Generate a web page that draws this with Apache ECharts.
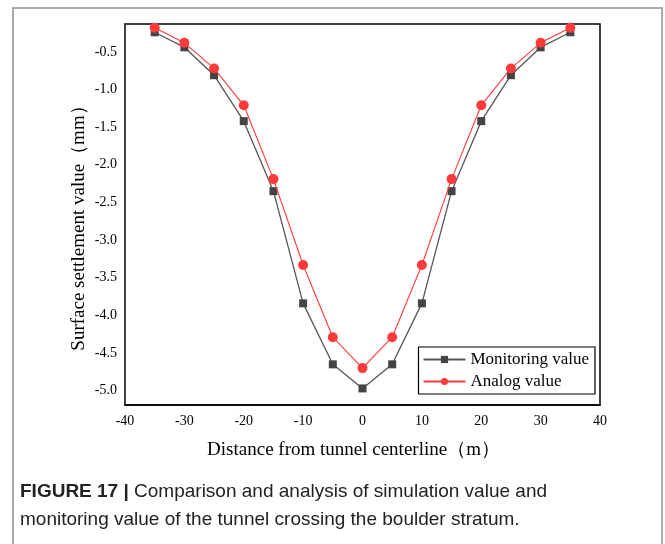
<!DOCTYPE html>
<html>
<head>
<meta charset="utf-8">
<script src="https://cdn.jsdelivr.net/npm/echarts@6/dist/echarts.min.js"></script>
<style>
  html, body { margin: 0; padding: 0; background: #fff; }
  #chart { width: 665px; height: 544px; }
</style>
</head>
<body>
<div id="chart"></div>
<script>
// distance from centerline (m)
const distances = [-35, -30, -25, -20, -15, -10, -5, 0, 5, 10, 15, 20, 25, 30, 35]
// settlement (mm)
const monitoringValues = [-0.24, -0.44, -0.81, -1.42, -2.35, -3.84, -4.65, -4.97, -4.65, -3.84, -2.35, -1.42, -0.81, -0.44, -0.24]
const analogValues = [-0.18, -0.38, -0.72, -1.21, -2.19, -3.33, -4.29, -4.70, -4.29, -3.33, -2.19, -1.21, -0.72, -0.38, -0.18]
const yTicks = [-5.0, -4.5, -4.0, -3.5, -3.0, -2.5, -2.0, -1.5, -1.0, -0.5]

const serif = '"Liberation Serif", "Times New Roman", serif'
const sans = '"Liberation Sans", Arial, sans-serif'

const myChart = echarts.init(document.getElementById('chart'))

const option = {
  animation: false,
  backgroundColor: '#fff',
  grid: {
    left: 125,
    top: 24,
    right: 65,
    bottom: 139,
    show: true,
    borderColor: '#000',
    borderWidth: 1.5
  },
  legend: {
    right: 70,
    top: 347,
    orient: 'vertical',
    itemWidth: 42,
    itemHeight: 9,
    itemGap: 5,
    padding: [4, 6, 4, 4],
    borderColor: '#000',
    borderWidth: 1.2,
    backgroundColor: '#fff',
    textStyle: { fontFamily: serif, fontSize: 17, color: '#000' },
    data: ['Monitoring value', 'Analog value']
  },
  xAxis: {
    type: 'value',
    min: -40,
    max: 40,
    interval: 10,
    name: 'Distance from tunnel centerline（m）',
    nameLocation: 'middle',
    nameGap: 36,
    nameTextStyle: { fontFamily: serif, fontSize: 19, color: '#000', padding: [0, 18, 0, 0] },
    axisLine: { show: true, onZero: false, lineStyle: { color: '#000', width: 1.5 } },
    axisTick: { show: false },
    splitLine: { show: false },
    axisLabel: { fontFamily: serif, fontSize: 14, color: '#000', margin: 9 }
  },
  yAxis: {
    type: 'value',
    min: -5.19,
    max: -0.13,
    name: 'Surface settlement value（mm）',
    nameLocation: 'middle',
    nameGap: 36,
    nameMoveOverlap: false,
    nameTextStyle: { fontFamily: serif, fontSize: 19, color: '#000', padding: [0, 0, 0, -18] },
    axisLine: { show: true, onZero: false, lineStyle: { color: '#444', width: 1.5 } },
    axisTick: { show: false },
    splitLine: { show: false },
    axisLabel: {
      fontFamily: serif,
      fontSize: 14,
      color: '#000',
      margin: 8,
      customValues: yTicks,
      formatter: v => v.toFixed(1)
    }
  },
  series: [
    {
      name: 'Monitoring value',
      type: 'line',
      data: distances.map((d, i) => [d, monitoringValues[i]]),
      symbol: 'rect',
      symbolSize: 8,
      lineStyle: { color: '#555', width: 1.3 },
      itemStyle: { color: '#444' },
      z: 2
    },
    {
      name: 'Analog value',
      type: 'line',
      data: distances.map((d, i) => [d, analogValues[i]]),
      symbol: 'circle',
      symbolSize: 10,
      lineStyle: { color: '#ff3a3a', width: 1.1 },
      itemStyle: { color: '#ff3a3a' },
      z: 3
    }
  ],
  graphic: [
    {
      type: 'rect',
      shape: { x: 13, y: 8, width: 649, height: 560 },
      style: { fill: 'none', stroke: '#aaa', lineWidth: 2 },
      silent: true,
      z: -1
    },
    {
      type: 'text',
      left: 20,
      top: 478,
      style: {
        text: '{b|FIGURE 17 |} Comparison and analysis of simulation value and\nmonitoring value of the tunnel crossing the boulder stratum.',
        fontFamily: sans,
        fontSize: 19,
        lineHeight: 28,
        fill: '#222',
        rich: {
          b: { fontFamily: sans, fontSize: 19, fontWeight: 'bold', fill: '#222' }
        }
      }
    }
  ]
}

myChart.setOption(option)
</script>
</body>
</html>
